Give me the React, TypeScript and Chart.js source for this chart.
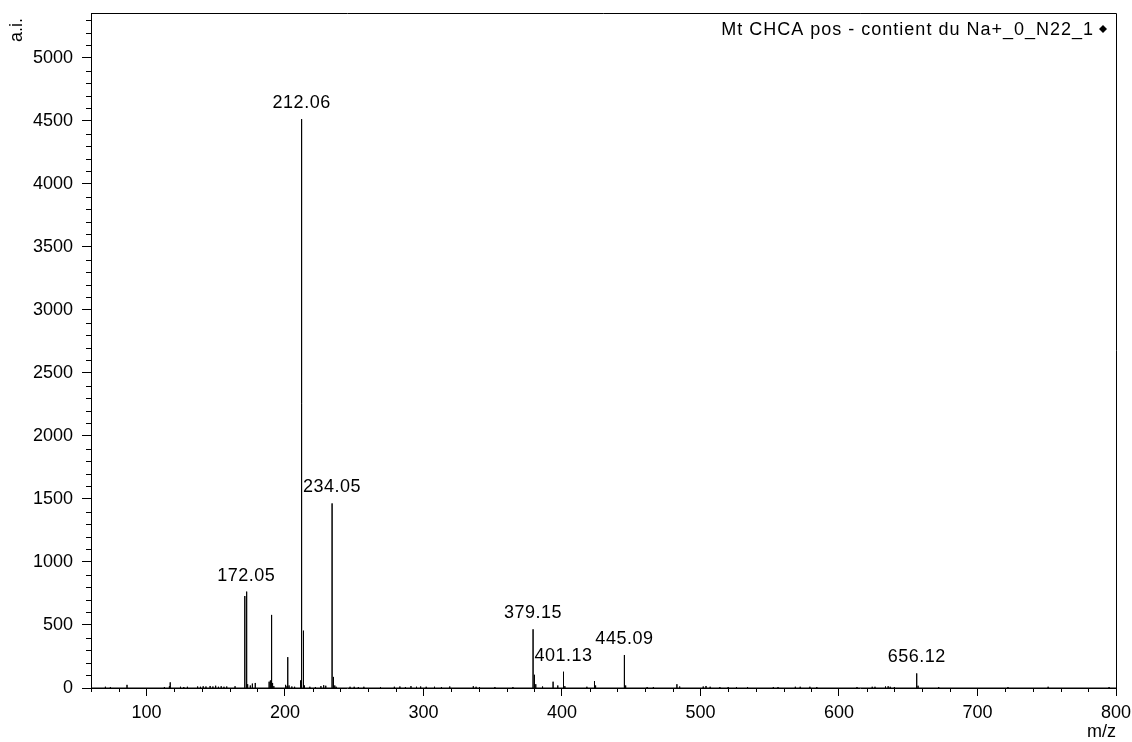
import React, { useEffect, useRef } from "react";
import { Chart, registerables } from "chart.js";

Chart.register(...registerables);

const seriesLabel = "Mt CHCA pos - contient du Na+_0_N22_1";

// m/z of each peak (stick) and its intensity in a.i.
const peakMz = [
  70.4, 74, 86, 113, 116.6, 117.2, 124.6, 127, 129.6, 137, 139, 141, 143, 146, 148, 150, 152, 154, 156, 158, 164,
  171.05, 172.05, 172.6, 173.1, 175, 176.5, 178.6,
  188.6, 189.5, 190.05, 190.6, 191.1, 192,
  200.5, 201.5, 202.05, 203, 205, 207,
  211, 211.5, 212.06, 213.06, 213.6, 214.1,
  218, 222, 226, 228, 229.5,
  234.05, 235.05, 236, 237,
  247, 250, 253, 257, 269, 279, 283, 287, 291, 295, 298,
  302, 308, 313, 319, 336, 338, 340.5, 351.6, 364.6,
  379.15, 380.15, 381.1, 386, 393.6, 397, 401.13, 402.1, 418, 423.5, 424.3,
  445.09, 446, 461.5, 466, 483, 485, 502, 504, 507, 514, 520, 526, 534,
  552.6, 556, 568.5, 572, 579, 584, 613, 624, 626, 633.6, 635.5, 637, 640,
  656.12, 657.1, 672, 722, 751, 795,
];
const peakIntensity = [
  10, 8, 25, 8, 14, 45, 10, 8, 10, 12, 10, 14, 12, 16, 12, 18, 10, 14, 10, 12, 14,
  730, 765, 120, 30, 20, 35, 40,
  50, 60, 580, 120, 40, 15,
  25, 15, 245, 20, 12, 10,
  40, 60, 4515, 455, 50, 20,
  10, 8, 15, 22, 18,
  1465, 88, 20, 10,
  10, 10, 8, 10, 8, 10, 12, 8, 15, 10, 12,
  10, 10, 8, 12, 14, 10, 8, 8, 8,
  466, 105, 30, 12, 50, 20, 129, 15, 10, 55, 20,
  262, 20, 8, 8, 30, 12, 12, 16, 10, 8, 8, 8, 8,
  8, 8, 10, 10, 10, 8, 8, 10, 10, 12, 14, 10, 8,
  116, 18, 8, 8, 10, 8,
];
const labeledMz = [172.05, 212.06, 234.05, 379.15, 401.13, 445.09, 656.12];

const xTicks = [100, 200, 300, 400, 500, 600, 700, 800];
const yTicks = [0, 500, 1000, 1500, 2000, 2500, 3000, 3500, 4000, 4500, 5000];
const xMin = 60;
const xMax = 800;
const yMin = 0;
const yMax = 5357;
const xMinorStep = 20;
const yMinorStep = 100;

const FONT = "'Liberation Sans', Arial, sans-serif";

function zeroPadding(s: any) {
  s.paddingTop = 0;
  s.paddingBottom = 0;
  s.paddingLeft = 0;
  s.paddingRight = 0;
}

export default function App() {
  const canvasRef = useRef<HTMLCanvasElement | null>(null);

  useEffect(() => {
    const canvas = canvasRef.current;
    if (!canvas) return;

    const lineData: { x: number; y: number }[] = [{ x: xMin, y: 0 }];
    peakMz.forEach((mz, i) => {
      lineData.push({ x: mz, y: 0 }, { x: mz, y: peakIntensity[i] }, { x: mz, y: 0 });
    });
    lineData.push({ x: xMax, y: 0 });

    const decorPlugin = {
      id: "decor",
      afterDatasetsDraw(chart: any) {
        const { ctx, chartArea, scales } = chart;
        const xs = scales.x;
        const ys = scales.y;
        ctx.save();
        // box top & right
        ctx.strokeStyle = "#000";
        ctx.lineWidth = 1;
        ctx.beginPath();
        ctx.moveTo(chartArea.left, chartArea.top + 0.5);
        ctx.lineTo(chartArea.right + 0.5, chartArea.top + 0.5);
        ctx.lineTo(chartArea.right + 0.5, chartArea.bottom);
        ctx.stroke();
        // minor ticks
        ctx.beginPath();
        for (let v = xMin; v <= xMax; v += xMinorStep) {
          if (xTicks.includes(v)) continue;
          const px = Math.round(xs.getPixelForValue(v)) + 0.5;
          ctx.moveTo(px, chartArea.bottom);
          ctx.lineTo(px, chartArea.bottom + 4);
        }
        for (let v = yMin; v <= yMax; v += yMinorStep) {
          if (yTicks.includes(v)) continue;
          const py = Math.round(ys.getPixelForValue(v)) + 0.5;
          ctx.moveTo(chartArea.left - 5, py);
          ctx.lineTo(chartArea.left, py);
        }
        ctx.stroke();
        // peak labels
        ctx.fillStyle = "#000";
        ctx.font = `18px ${FONT}`;
        ctx.textAlign = "center";
        ctx.textBaseline = "alphabetic";
        (ctx as any).letterSpacing = "0.5px";
        labeledMz.forEach((mz) => {
          const idx = peakMz.indexOf(mz);
          const px = xs.getPixelForValue(mz);
          const py = ys.getPixelForValue(peakIntensity[idx]);
          ctx.fillText(mz.toFixed(2), px, py - 11);
        });
        // legend
        (ctx as any).letterSpacing = "1px";
        ctx.textAlign = "right";
        ctx.fillText(chart.data.datasets[0].label, chartArea.right - 22, chartArea.top + 22);
        (ctx as any).letterSpacing = "0px";
        const dx = chartArea.right - 13;
        const dy = chartArea.top + 16;
        ctx.beginPath();
        ctx.moveTo(dx, dy - 4);
        ctx.lineTo(dx + 4, dy);
        ctx.lineTo(dx, dy + 4);
        ctx.lineTo(dx - 4, dy);
        ctx.closePath();
        ctx.fill();
        ctx.restore();
      },
    };

    const chart = new Chart(canvas, {
      type: "line",
      data: {
        datasets: [
          {
            label: seriesLabel,
            data: lineData,
            borderColor: "#000",
            borderWidth: 1,
            pointRadius: 0,
            tension: 0,
            fill: false,
          },
        ],
      },
      options: {
        animation: false,
        responsive: true,
        maintainAspectRatio: false,
        layout: { padding: { top: 13, right: 16, left: 0, bottom: 0 } },
        plugins: { legend: { display: false }, tooltip: { enabled: false } },
        scales: {
          x: {
            type: "linear",
            min: xMin,
            max: xMax,
            afterBuildTicks: (s: any) => {
              s.ticks = xTicks.map((v) => ({ value: v }));
            },
            afterFit: (s: any) => {
              s.height = 54;
              zeroPadding(s);
            },
            grid: { drawOnChartArea: false, drawTicks: true, tickLength: 8, color: "#000", tickColor: "#000" },
            border: { display: true, color: "#000", width: 1 },
            ticks: {
              color: "#000",
              font: { family: FONT, size: 18 },
              padding: 6,
              maxRotation: 0,
              autoSkip: false,
              callback: (v: any) => String(v),
            },
            title: {
              display: true,
              text: "m/z",
              align: "end",
              color: "#000",
              font: { family: FONT, size: 18 },
              padding: { top: 0, bottom: -1 },
            },
          },
          y: {
            type: "linear",
            min: yMin,
            max: yMax,
            afterBuildTicks: (s: any) => {
              s.ticks = yTicks.map((v) => ({ value: v }));
            },
            afterFit: (s: any) => {
              s.width = 91;
              zeroPadding(s);
            },
            grid: { drawOnChartArea: false, drawTicks: true, tickLength: 9, color: "#000", tickColor: "#000" },
            border: { display: true, color: "#000", width: 1 },
            ticks: {
              color: "#000",
              font: { family: FONT, size: 18 },
              padding: 9,
              autoSkip: false,
              callback: (v: any) => String(v),
            },
            title: {
              display: true,
              text: "a.i. ",
              align: "end",
              color: "#000",
              font: { family: FONT, size: 18 },
              padding: { top: 6, bottom: 0 },
            },
          },
        },
      },
      plugins: [decorPlugin],
    });

    return () => chart.destroy();
  }, []);

  return (
    <div style={{ position: "absolute", left: 0, top: 0, width: 1132, height: 742, background: "#fff" }}>
      <canvas ref={canvasRef} />
    </div>
  );
}
